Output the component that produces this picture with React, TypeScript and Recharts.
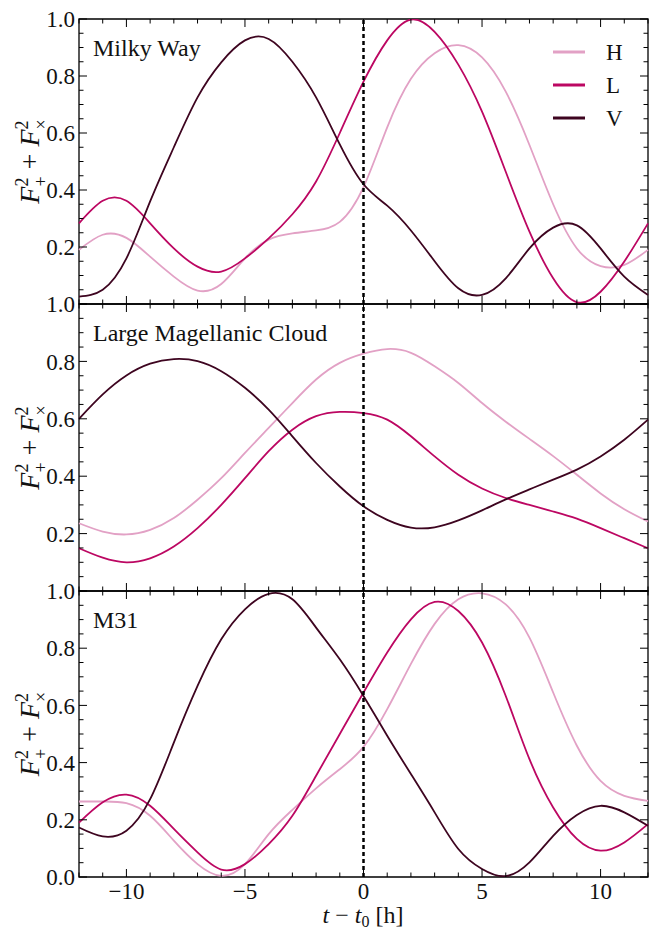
import React from 'react';
import { LineChart, Line, XAxis, YAxis, ReferenceLine, ReferenceArea, Legend } from 'recharts';

// hours relative to t0
const hours = [-12, -11, -10, -9, -8, -7, -6, -5, -4, -3, -2, -1, 0, 1, 2, 3, 4, 5, 6, 7, 8, 9, 10, 11, 12];

// Milky Way
const mwH = [0.19, 0.243, 0.232, 0.166, 0.096, 0.047, 0.07, 0.16, 0.226, 0.248, 0.258, 0.288, 0.41, 0.62, 0.79, 0.88, 0.908, 0.865, 0.745, 0.558, 0.35, 0.195, 0.133, 0.137, 0.19];
const mwL = [0.283, 0.362, 0.362, 0.283, 0.195, 0.131, 0.114, 0.16, 0.23, 0.315, 0.43, 0.6, 0.78, 0.925, 0.998, 0.955, 0.84, 0.675, 0.464, 0.254, 0.09, 0.006, 0.043, 0.149, 0.283];
const mwV = [0.026, 0.05, 0.16, 0.36, 0.55, 0.725, 0.848, 0.925, 0.93, 0.85, 0.725, 0.56, 0.42, 0.345, 0.258, 0.15, 0.055, 0.032, 0.09, 0.195, 0.268, 0.276, 0.195, 0.096, 0.032];

// Large Magellanic Cloud
const lmcH = [0.236, 0.207, 0.197, 0.213, 0.254, 0.318, 0.393, 0.481, 0.568, 0.655, 0.737, 0.795, 0.827, 0.843, 0.83, 0.783, 0.725, 0.655, 0.59, 0.53, 0.47, 0.405, 0.34, 0.285, 0.242];
const lmcL = [0.149, 0.116, 0.1, 0.114, 0.155, 0.219, 0.3, 0.393, 0.487, 0.562, 0.609, 0.624, 0.62, 0.597, 0.539, 0.469, 0.405, 0.357, 0.324, 0.3, 0.277, 0.252, 0.219, 0.184, 0.149];
const lmcV = [0.6, 0.685, 0.751, 0.792, 0.808, 0.801, 0.766, 0.708, 0.632, 0.539, 0.446, 0.364, 0.295, 0.248, 0.221, 0.222, 0.246, 0.281, 0.319, 0.354, 0.388, 0.423, 0.469, 0.527, 0.597];

// M31
const m31H = [0.264, 0.264, 0.258, 0.214, 0.127, 0.045, 0.004, 0.045, 0.15, 0.235, 0.31, 0.377, 0.455, 0.587, 0.745, 0.885, 0.971, 0.992, 0.953, 0.837, 0.645, 0.459, 0.336, 0.284, 0.266];
const m31L = [0.19, 0.261, 0.288, 0.249, 0.168, 0.086, 0.026, 0.045, 0.115, 0.214, 0.354, 0.5, 0.645, 0.785, 0.901, 0.962, 0.93, 0.82, 0.633, 0.412, 0.243, 0.133, 0.092, 0.121, 0.185];
const m31V = [0.173, 0.142, 0.162, 0.272, 0.47, 0.668, 0.831, 0.936, 0.99, 0.971, 0.872, 0.761, 0.633, 0.494, 0.36, 0.226, 0.098, 0.028, 0.003, 0.051, 0.144, 0.217, 0.249, 0.226, 0.179];

const yTicks = [0, 0.05, 0.1, 0.15, 0.2, 0.25, 0.3, 0.35, 0.4, 0.45, 0.5, 0.55, 0.6, 0.65, 0.7, 0.75, 0.8, 0.85, 0.9, 0.95, 1];
const xTicks = hours;

const colors = { H: '#e2a1c5', L: '#bc0762', V: '#3e0520' };

const W = 649;
const PLOT_L = 79;
const PLOT_R = 648;
const MT = 20;
const XH = 50;
const FONT = '"Liberation Serif", "Times New Roman", serif';

const rows = (h: number[], l: number[], v: number[]) =>
  hours.map((t, i) => ({ t, H: h[i], L: l[i], V: v[i] }));

const fmtX = (v: number) => (v < 0 ? `\u2212${-v}` : `${v}`);

const YTick = (props: any) => {
  const { y, payload, showZero } = props;
  const v = payload.value;
  const major = Math.round(v * 100) % 20 === 0;
  const len = major ? 8 : 4.5;
  const showLabel = major && (v > 0 || showZero);
  return (
    <g>
      <line x1={PLOT_L} x2={PLOT_L + len} y1={y} y2={y} stroke="#000" strokeWidth={1} />
      <line x1={PLOT_R - len} x2={PLOT_R} y1={y} y2={y} stroke="#000" strokeWidth={1} />
      {showLabel && (
        <text x={PLOT_L - 4} y={y} dy="0.36em" textAnchor="end" fontSize={23} fontFamily={FONT} fill="#111">
          {v.toFixed(1)}
        </text>
      )}
    </g>
  );
};

const XTick = (props: any) => {
  const { x, payload, plotH, showLabels } = props;
  const v = payload.value;
  const major = v % 5 === 0;
  const len = major ? 8 : 4.5;
  const bottom = MT + plotH;
  return (
    <g>
      <line x1={x} x2={x} y1={bottom} y2={bottom - len} stroke="#000" strokeWidth={1} />
      <line x1={x} x2={x} y1={MT} y2={MT + len} stroke="#000" strokeWidth={1} />
      {showLabels && major && (
        <text x={x} y={bottom + 22} textAnchor="middle" fontSize={23} fontFamily={FONT} fill="#111">
          {fmtX(v)}
        </text>
      )}
    </g>
  );
};

const LegendBox = (props: any) => {
  const { payload } = props;
  return (
    <svg width={90} height={100}>
      {(payload || []).map((p: any, i: number) => {
        const y = 16 + i * 33;
        return (
          <g key={p.value}>
            <line x1={0} x2={32} y1={y} y2={y} stroke={p.color} strokeWidth={3} />
            <text x={53} y={y + 8} fontSize={23} fontFamily={FONT} fill="#111">{p.value}</text>
          </g>
        );
      })}
    </svg>
  );
};

interface PanelProps {
  top: number;
  plotH: number;
  data: { t: number; H: number; L: number; V: number }[];
  bottom?: boolean;
  legend?: boolean;
}

const Panel: React.FC<PanelProps> = ({ top, plotH, data, bottom, legend }) => (
  <div style={{ position: 'absolute', left: 0, top: top - MT }}>
    <LineChart width={W} height={MT + plotH + XH} data={data} margin={{ top: MT, right: W - PLOT_R, left: 0, bottom: 0 }}>
      <XAxis
        dataKey="t"
        type="number"
        domain={[-12, 12]}
        ticks={xTicks}
        interval={0}
        height={XH}
        axisLine={false}
        tickLine={false}
        tick={<XTick plotH={plotH} showLabels={!!bottom} />}
      />
      <YAxis
        type="number"
        domain={[0, 1]}
        ticks={yTicks}
        interval={0}
        width={PLOT_L}
        allowDataOverflow
        axisLine={false}
        tickLine={false}
        tick={<YTick showZero={!!bottom} />}
      />
      <Line type="natural" dataKey="H" stroke={colors.H} strokeWidth={1.8} dot={false} isAnimationActive={false} />
      <Line type="natural" dataKey="L" stroke={colors.L} strokeWidth={1.8} dot={false} isAnimationActive={false} />
      <Line type="natural" dataKey="V" stroke={colors.V} strokeWidth={1.8} dot={false} isAnimationActive={false} />
      <ReferenceLine x={0} stroke="#000" strokeWidth={2.5} strokeDasharray="4 3" />
      <ReferenceArea x1={-12} x2={12} y1={0} y2={1} fill="none" stroke="#000" strokeWidth={1.3} ifOverflow="visible" />
      {legend && (
        <Legend
          layout="vertical"
          align="center"
          verticalAlign="middle"
          wrapperStyle={{ top: 36 - top + MT, left: 553, width: 90 }}
          content={<LegendBox />}
        />
      )}
    </LineChart>
  </div>
);

const YLabel = ({ cy }: { cy: number }) => (
  <text transform={`translate(39, ${cy}) rotate(-90)`} textAnchor="middle" fontSize={28} fontFamily={FONT} fill="#111">
    <tspan fontStyle="italic">F</tspan>
    <tspan fontSize={18} dy={-11}>2</tspan>
    <tspan fontSize={18} dx={-9} dy={19}>+</tspan>
    <tspan dy={-8}>{' + '}</tspan>
    <tspan fontStyle="italic">F</tspan>
    <tspan fontSize={18} dy={-11}>2</tspan>
    <tspan fontSize={18} dx={-9} dy={19}>×</tspan>
  </text>
);

const panels = [
  { name: 'Milky Way', top: 19, plotH: 285, data: rows(mwH, mwL, mwV) },
  { name: 'Large Magellanic Cloud', top: 304, plotH: 287, data: rows(lmcH, lmcL, lmcV) },
  { name: 'M31', top: 591, plotH: 286, data: rows(m31H, m31L, m31V) },
];

export default function App() {
  return (
    <div style={{ position: 'absolute', left: 0, top: 0, width: W, height: 930, background: '#fff', fontFamily: FONT }}>
      {panels.map((p, i) => (
        <Panel key={p.name} top={p.top} plotH={p.plotH} data={p.data} bottom={i === 2} legend={i === 0} />
      ))}
      <svg width={W} height={930} style={{ position: 'absolute', left: 0, top: 0, pointerEvents: 'none' }}>
        {panels.map((p) => (
          <g key={p.name}>
            <text x={93} y={p.top + 37} fontSize={24} fontFamily={FONT} fill="#111">{p.name}</text>
            <YLabel cy={p.top + p.plotH / 2} />
          </g>
        ))}
        <text x={363} y={923} textAnchor="middle" fontSize={24} fontFamily={FONT} fill="#111">
          <tspan fontStyle="italic">t</tspan>
          <tspan>{' \u2212 '}</tspan>
          <tspan fontStyle="italic">t</tspan>
          <tspan fontSize={16} dy={4}>0</tspan>
          <tspan dy={-4}>{' [h]'}</tspan>
        </text>
      </svg>
    </div>
  );
}
